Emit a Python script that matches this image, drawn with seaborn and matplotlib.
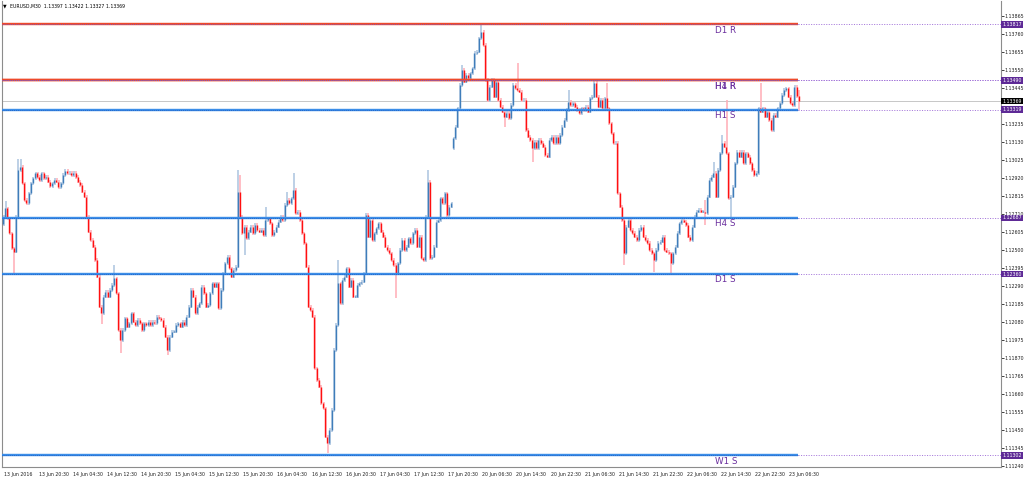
import numpy as np
import pandas as pd
import matplotlib
matplotlib.use("Agg")
import matplotlib.pyplot as plt
import matplotlib.transforms as mtransforms
import seaborn as sns

# ---------------- data (prices in points above 1.10000) ----------------
closes = [
    2694, 2743, 2684, 2597, 2510, 2490, 2694, 2966, 2986, 2889, 2791, 2772, 2830, 2889, 2918, 2947, 2927, 2908, 2947, 2918,
    2927, 2898, 2873, 2889, 2908, 2898, 2865, 2889, 2937, 2962, 2947, 2951, 2937, 2951, 2927, 2898, 2879, 2840, 2811, 2694,
    2607, 2558, 2519, 2441, 2344, 2169, 2130, 2228, 2257, 2228, 2267, 2296, 2335, 2247, 2033, 1975, 2033, 2101, 2053, 2072,
    2130, 2082, 2062, 2092, 2072, 2033, 2072, 2062, 2082, 2062, 2082, 2072, 2111, 2101, 2092, 2053, 1994, 1917, 1994, 2024,
    2024, 2062, 2072, 2053, 2082, 2062, 2111, 2169, 2267, 2228, 2130, 2169, 2189, 2286, 2247, 2169, 2179, 2247, 2305, 2286,
    2305, 2160, 2267, 2364, 2422, 2461, 2393, 2344, 2383, 2403, 2840, 2694, 2597, 2636, 2568, 2607, 2636, 2597, 2646, 2616,
    2607, 2616, 2587, 2675, 2684, 2655, 2587, 2607, 2636, 2665, 2694, 2675, 2762, 2791, 2772, 2801, 2850, 2714, 2723, 2675,
    2597, 2539, 2403, 2169, 2150, 2111, 1810, 1742, 1703, 1606, 1576, 1411, 1372, 1450, 1567, 1917, 2062, 2305, 2189, 2325,
    2344, 2393, 2286, 2325, 2228, 2228, 2296, 2305, 2315, 2364, 2704, 2578, 2675, 2558, 2597, 2626, 2655, 2607, 2578, 2519,
    2500, 2480, 2441, 2412, 2364, 2422, 2500, 2558, 2500, 2519, 2568, 2539, 2597, 2616, 2519, 2578, 2451, 2441, 2694, 2898,
    2451, 2461, 2519, 2665, 2675, 2801, 2772, 2830, 2704, 2753, 2772,
    3152, 3220, 3327, 3463, 3550, 3482, 3521, 3502, 3531, 3560, 3648, 3657, 3735, 3774, 3696, 3492, 3375, 3453, 3492, 3395,
    3482, 3375, 3337, 3307, 3278, 3298, 3269, 3346, 3463, 3443, 3434, 3424, 3375, 3375, 3200, 3162, 3142, 3094, 3132, 3094,
    3142, 3123, 3103, 3055, 3045, 3142, 3162, 3123, 3162, 3123, 3171, 3220, 3259, 3317, 3366, 3346, 3356, 3337, 3317, 3298,
    3327, 3317, 3337, 3307, 3385, 3395, 3473, 3395, 3337, 3375, 3327, 3385, 3327, 3239, 3181, 3123, 3123, 2831, 2753, 2676,
    2481, 2637, 2676, 2617, 2598, 2578, 2559, 2617, 2637, 2578, 2559, 2540, 2501, 2481, 2442, 2501, 2540, 2549, 2578, 2501,
    2491, 2481, 2423, 2481, 2520, 2598, 2656, 2676, 2666, 2646, 2578, 2559, 2637, 2695, 2724, 2734, 2724, 2724, 2714, 2812,
    2909, 2928, 2948, 2812, 2967, 3064, 3123, 3103, 3064, 2802, 2812, 2870, 3006, 3074, 3045, 3074, 3006, 3064, 3045, 3006,
    2967, 2938, 2948, 3327, 3307, 3327, 3278, 3307, 3259, 3200, 3288, 3278, 3327, 3356, 3405, 3434, 3443, 3395, 3356, 3346,
    3453, 3397, 3369,
]
first_open = 2649
gap_index = 211          # Monday open after the weekend gap
gap_open = 3094
upper_wicks = {1: 33, 7: 54, 8: 35, 52: 68, 110: 117, 111: 87, 123: 68, 133: 39, 136: 87,
               157: 126, 199: 58, 215: 19, 224: 39, 241: 136, 265: 58, 277: 10, 283: 78,
               329: 58, 333: 58, 337: 39, 339: 263, 355: 136, 373: 25}
lower_wicks = {5: 126, 46: 49, 55: 68, 77: 20, 113: 117, 152: 49, 184: 136, 235: 49,
               248: 68, 291: 58, 305: 58, 313: 58, 329: 58, 341: 107, 373: 42}
wick_pad = 10

level_names = ["D1 R", "H1 R", "H4 R", "H1 S", "H4 S", "D1 S", "W1 S"]
level_prices = [1.13817, 1.13490, 1.13490, 1.13319, 1.12687, 1.12360, 1.11302]
level_kinds = ["R", "R", "R", "S", "S", "S", "S"]
last_price = 1.13369

ytick_values = [1.13865, 1.13760, 1.13655, 1.13550, 1.13445, 1.13235, 1.13130, 1.13025,
                1.12920, 1.12815, 1.12710, 1.12605, 1.12500, 1.12395, 1.12290, 1.12185, 1.12080,
                1.11975, 1.11870, 1.11765, 1.11660, 1.11555, 1.11450, 1.11345, 1.11240]
xtick_labels = ["13 Jun 2016", "13 Jun 20:30", "14 Jun 04:30", "14 Jun 12:30", "14 Jun 20:30",
                "15 Jun 04:30", "15 Jun 12:30", "15 Jun 20:30", "16 Jun 04:30", "16 Jun 12:30",
                "16 Jun 20:30", "17 Jun 04:30", "17 Jun 12:30", "17 Jun 20:30", "20 Jun 06:30",
                "20 Jun 14:30", "20 Jun 22:30", "21 Jun 06:30", "21 Jun 14:30", "21 Jun 22:30",
                "22 Jun 06:30", "22 Jun 14:30", "22 Jun 22:30", "23 Jun 06:30"]
bars_per_label = 16
title_text = "EURUSD,M30  1.13397 1.13422 1.13327 1.13369"

# ---------------- build OHLC ----------------
n = len(closes)
opens = [first_open] + closes[:-1]
opens[gap_index] = gap_open
df = pd.DataFrame({"i": np.arange(n), "open": opens, "close": closes})
df["top"] = df[["open", "close"]].max(axis=1)
df["bot"] = df[["open", "close"]].min(axis=1)
df["high"] = df["top"] + wick_pad + df["i"].map(upper_wicks).fillna(0)
df["low"] = df["bot"] - wick_pad - df["i"].map(lower_wicks).fillna(0)
for c in ["open", "close", "high", "low", "top", "bot"]:
    df[c] = 1.1 + df[c] / 1e5
df["bull"] = df["close"] >= df["open"]

# ---------------- style ----------------
sns.set_style("white")
plt.rcParams["font.family"] = ["DejaVu Sans"]

W, H = 1024, 479
fig = plt.figure(figsize=(W / 100, H / 100), dpi=100)
ax = fig.add_axes([2 / W, 12 / H, 999 / W, 466 / H])

px = 0.72  # points per pixel
bull_body, bull_wick = "#3F7DBA", "#AFC6E0"
bear_body, bear_wick = "#FF1010", "#FFB0B8"
tick_fs = 3.4
axis_col = "#202020"

x_end_line = 372.8
x_left, x_right = -0.47, 467.8

# current price line (light grey)
ax.axhline(last_price, color="#C8C8C8", lw=1.0 * px, zorder=1)

# candles
for bull, sub in df.groupby("bull"):
    wc = bull_wick if bull else bear_wick
    bc = bull_body if bull else bear_body
    ax.vlines(sub["i"] + 0.25, sub["low"], sub["high"], color=wc, lw=1.6 * px, zorder=2)
    body_hi = np.maximum(sub["top"], sub["bot"] + 0.000025)
    ax.vlines(sub["i"], sub["bot"], body_hi, color=bc, lw=1.4 * px, zorder=3)

# level lines
for name, p, kind in zip(level_names, level_prices, level_kinds):
    solid = "#EE4A2C" if kind == "R" else "#3C8EE8"
    dots = "#7A5CC8" if kind == "R" else "#1F5FC4"
    ax.hlines(p, x_left, x_end_line, color=solid, lw=2.4 * px, zorder=4)
    ax.hlines(p, x_left, x_end_line, color=dots, lw=0.8 * px, linestyles=(0, (1.2, 1.2)), zorder=5)
    ax.hlines(p, x_end_line, x_right, color="#A070D8", lw=0.9 * px, linestyles=(0, (1.2, 1.6)), zorder=4)
    ax.annotate(name, (333.8, p), xytext=(0, -4.2), textcoords="offset points",
                ha="left", va="center", fontsize=6.3, color="#6A2E9E", zorder=6)

# axes limits
ax.set_xlim(x_left, x_right)
ax.set_ylim(1.112342, 1.139525)

# y ticks on the right
ax.yaxis.tick_right()
ax.set_yticks(ytick_values)
ax.set_yticklabels([f"{v:.5f}" for v in ytick_values], fontsize=tick_fs, color=axis_col)
ax.tick_params(axis="y", length=2.0, width=0.6, pad=0.8, colors=axis_col)

# x ticks
xt = np.arange(len(xtick_labels)) * bars_per_label
ax.set_xticks(xt)
ax.set_xticklabels(xtick_labels, fontsize=tick_fs, color=axis_col, ha="left")
ax.tick_params(axis="x", length=2.5, width=0.6, pad=1.0, colors=axis_col)
off = mtransforms.ScaledTranslation(1.0 / 72, 0, fig.dpi_scale_trans)
for lab in ax.get_xticklabels():
    lab.set_transform(lab.get_transform() + off)

for s in ["left", "right", "bottom"]:
    ax.spines[s].set_color("#8C8C8C")
    ax.spines[s].set_linewidth(0.8)
ax.spines["top"].set_visible(False)

# price boxes on the right axis
btrans = mtransforms.blended_transform_factory(ax.transAxes, ax.transData)
for p in sorted(set(level_prices)):
    ax.text(1.0012, p, f"{p:.5f}", transform=btrans, ha="left", va="center", fontsize=tick_fs,
            color="white", zorder=10, clip_on=False,
            bbox=dict(boxstyle="square,pad=0.2", fc="#5E2A96", ec="none"))
ax.text(1.0012, last_price, f"{last_price:.5f}", transform=btrans, ha="left", va="center",
        fontsize=tick_fs, color="white", zorder=11, clip_on=False,
        bbox=dict(boxstyle="square,pad=0.2", fc="#000000", ec="none"))

# title
fig.text(3 / W, 1 - 6 / H, "\u25BC", fontsize=3.4, color="#000000", va="center", ha="left")
fig.text(10 / W, 1 - 6 / H, title_text, fontsize=3.3, color="#000000", va="center", ha="left")

fig.savefig("out.png", dpi=100, facecolor="white")
